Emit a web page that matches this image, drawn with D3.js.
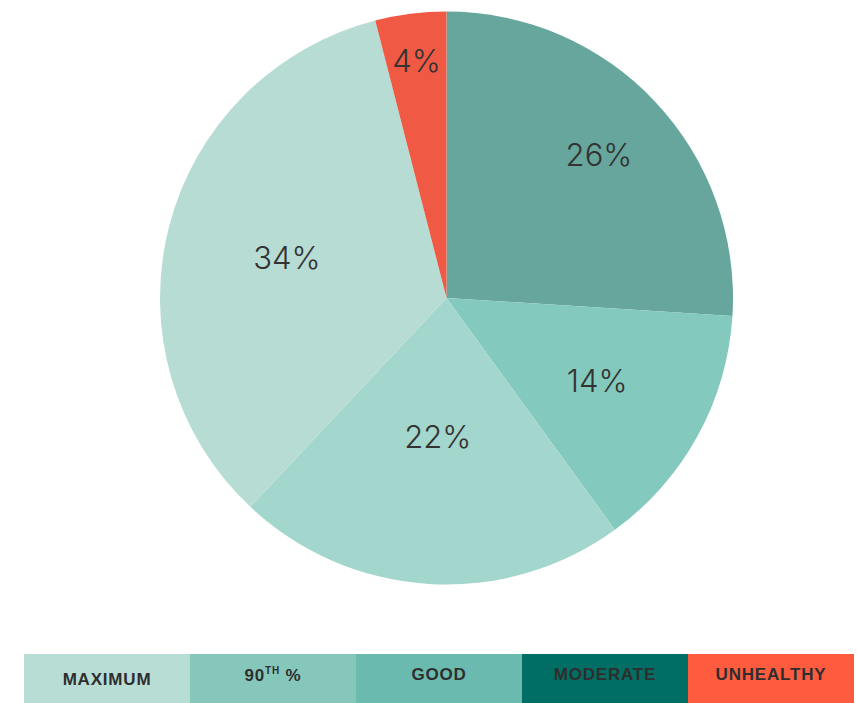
<!DOCTYPE html>
<html>
<head>
<meta charset="utf-8">
<script src="https://cdn.jsdelivr.net/npm/d3@7/dist/d3.min.js"></script>
<style>
  html, body { margin: 0; padding: 0; background: #fff; }
  svg { display: block; }
</style>
</head>
<body>
<svg id="chart" width="857" height="703"></svg>
<script>
// Share of days by air-quality level
const sliceLabels = ["26%", "14%", "22%", "34%", "4%"];
const sliceValues = [26, 14, 22, 34, 4];
const sliceColors = ["#66a69d", "#84c9bd", "#a3d6cd", "#b6dcd4", "#f05a45"];
// how far out from the centre each percentage sits (fraction of the radius)
const labelReach = [0.73, 0.6, 0.485, 0.575, 0.836];

// Legend
const legendNames = ["MAXIMUM", "90TH %", "GOOD", "MODERATE", "UNHEALTHY"];
const legendColors = ["#b7ddd5", "#86c7bb", "#6abaaf", "#006e64", "#ff5c3f"];

const svg = d3.select("#chart");
const cx = 446.5, cy = 298, R = 286.5;

const pie = d3.pie().sort(null).value(d => d)(sliceValues);
const arc = d3.arc().innerRadius(0).outerRadius(R);

const g = svg.append("g").attr("transform", `translate(${cx},${cy})`);

g.selectAll("path.slice")
  .data(pie)
  .join("path")
  .attr("class", "slice")
  .attr("d", arc)
  .attr("fill", (d, i) => sliceColors[i]);

g.selectAll("text.pct")
  .data(pie)
  .join("text")
  .attr("class", "pct")
  .attr("transform", (d, i) => {
    const r = R * labelReach[i];
    const c = d3.arc().innerRadius(r).outerRadius(r).centroid(d);
    return `translate(${c[0]},${c[1]})`;
  })
  .attr("text-anchor", "middle")
  .attr("dominant-baseline", "central")
  .attr("font-family", "Inter, 'Liberation Sans', sans-serif")
  .attr("font-weight", 300)
  .attr("font-size", 31)
  .attr("fill", "#333")
  .text((d, i) => sliceLabels[i]);

// Legend strip
const legend = svg.append("g");
const lx = d3.scaleBand().domain(legendNames).range([24, 854]).padding(0);
const stripTop = 654, stripH = 49;

const item = legend.selectAll("g.item")
  .data(legendNames)
  .join("g")
  .attr("class", "item");

item.append("rect")
  .attr("x", d => lx(d))
  .attr("y", stripTop)
  .attr("width", lx.bandwidth())
  .attr("height", stripH)
  .attr("fill", (d, i) => legendColors[i]);

item.each(function(d, i) {
  const t = d3.select(this).append("text")
    .attr("x", lx(d) + lx.bandwidth() / 2)
    .attr("y", stripTop + (i === 0 ? 25 : 20.5))
    .attr("text-anchor", "middle")
    .attr("dominant-baseline", "central")
    .attr("font-family", "'Liberation Sans', Arial, sans-serif")
    .attr("font-weight", "bold")
    .attr("font-size", 17)
    .attr("letter-spacing", 0.8)
    .attr("fill", "#2e2e2e");
  if (d === "90TH %") {
    t.append("tspan").text("90");
    t.append("tspan").attr("font-size", 10).attr("dy", -5).text("TH");
    t.append("tspan").attr("dy", 5).text(" %");
  } else {
    t.text(d);
  }
});
</script>
</body>
</html>
